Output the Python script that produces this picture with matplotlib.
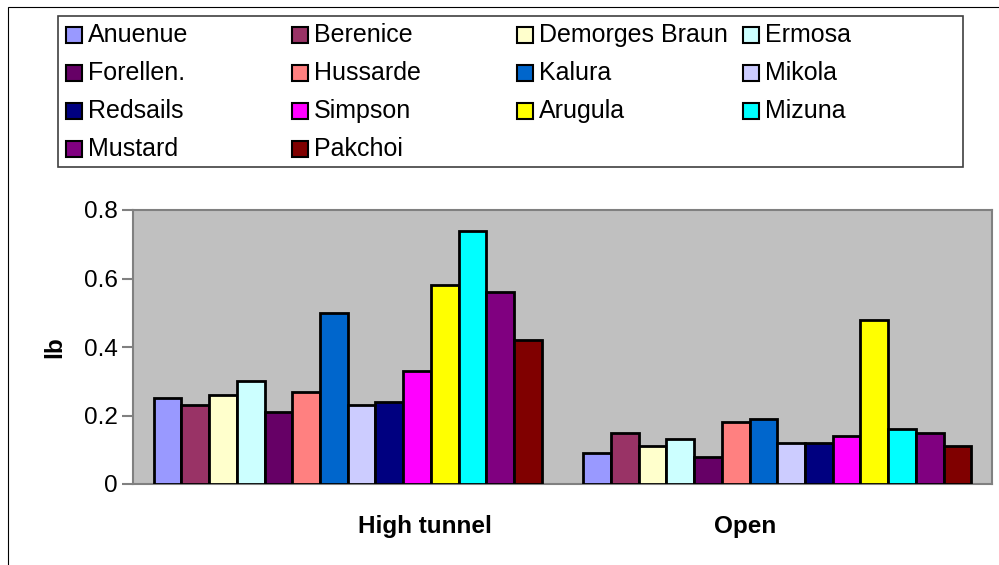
import numpy as np
import matplotlib
matplotlib.use("Agg")
import matplotlib.pyplot as plt
from matplotlib.patches import Rectangle

plt.rcParams['font.family'] = ['Liberation Sans', 'DejaVu Sans']

# yield per variety, lb
varieties = ['Anuenue', 'Berenice', 'Demorges Braun', 'Ermosa', 'Forellen.',
             'Hussarde', 'Kalura', 'Mikola', 'Redsails', 'Simpson',
             'Arugula', 'Mizuna', 'Mustard', 'Pakchoi']
groups = ['High tunnel', 'Open']
high_tunnel = [0.25, 0.23, 0.26, 0.30, 0.21, 0.27, 0.50, 0.23, 0.24, 0.33,
               0.58, 0.74, 0.56, 0.42]
open_field = [0.09, 0.15, 0.11, 0.13, 0.08, 0.18, 0.19, 0.12, 0.12, 0.14,
              0.48, 0.16, 0.15, 0.11]
yticks = [0, 0.2, 0.4, 0.6, 0.8]
ytick_labels = ['0', '0.2', '0.4', '0.6', '0.8']

colors = ['#9999FF', '#993366', '#FFFFCC', '#CCFFFF', '#660066', '#FF8080',
          '#0066CC', '#CCCCFF', '#000080', '#FF00FF', '#FFFF00', '#00FFFF',
          '#800080', '#800000']

W, H = 999, 565
fig = plt.figure(figsize=(W / 100, H / 100), dpi=100)

# chart area frame (runs off the right and bottom edges)
fig.patches.append(Rectangle((8 / W, -0.1), 1.2, 1.1 - 7 / H,
                             transform=fig.transFigure, fill=False,
                             edgecolor='black', lw=0.8))

ax = fig.add_axes([133 / W, 1 - 484 / H, 859 / W, 274 / H])
ax.set_facecolor('#C0C0C0')

n = len(varieties)
bw = 1 / (n + 1.5)
x = np.arange(len(groups))
data = np.array([high_tunnel, open_field])
for i in range(n):
    ax.bar(x + (i - (n - 1) / 2) * bw, data[:, i], bw, color=colors[i],
           edgecolor='black', lw=2, zorder=3)

ax.set_xlim(-0.5, 1.5)
ax.set_ylim(0, 0.8)
ax.set_yticks(yticks)
ax.set_yticklabels(ytick_labels, fontsize=17.5)
ax.set_xticks([])
ax.tick_params(axis='y', length=8, color='#808080', width=1.5, pad=3)
for s in ax.spines.values():
    s.set_color('#808080')
    s.set_linewidth(1.5)

# category labels sit off-centre under each group
for gx, g in zip([425, 745], groups):
    fig.text(gx / W, 1 - 527 / H, g, fontsize=17.5, fontweight='bold',
             ha='center', va='center')
fig.text(55 / W, 1 - 347 / H, 'lb', fontsize=17.5, fontweight='bold',
         rotation=90, ha='center', va='center')

# legend box, four entries per row
fig.patches.append(Rectangle((58 / W, 1 - 167 / H), 905 / W, 151 / H,
                             transform=fig.transFigure, facecolor='white',
                             edgecolor='#404040', lw=1.2))
col_x = [66, 292, 517, 743]
row_y = [35, 73, 111, 149]
for i, name in enumerate(varieties):
    r, c = divmod(i, 4)
    px, py = col_x[c], row_y[r]
    fig.patches.append(Rectangle((px / W, 1 - (py + 8) / H), 16 / W, 16 / H,
                                 transform=fig.transFigure,
                                 facecolor=colors[i], edgecolor='black',
                                 lw=1.5))
    fig.text((px + 22) / W, 1 - py / H, name, fontsize=18,
             ha='left', va='center')

fig.savefig('out.png', dpi=100)
